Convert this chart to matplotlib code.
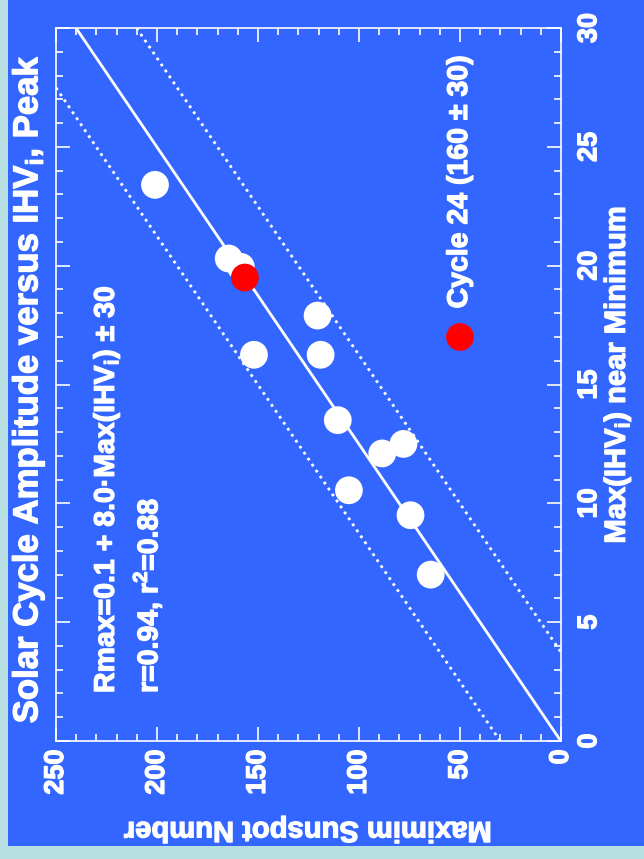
import matplotlib
matplotlib.use("Agg")
import matplotlib.pyplot as plt
import matplotlib.patheffects as pe
from matplotlib.patches import Rectangle
from matplotlib.ticker import MultipleLocator
import numpy as np

plt.rcParams['font.family'] = ['Liberation Sans', 'DejaVu Sans']
plt.rcParams['font.weight'] = 'bold'
plt.rcParams['mathtext.fontset'] = 'custom'
plt.rcParams['mathtext.rm'] = 'Liberation Sans:bold'
plt.rcParams['mathtext.it'] = 'Liberation Sans:bold'
plt.rcParams['mathtext.bf'] = 'Liberation Sans:bold'

BLUE = "#3366FF"
EDGE = "#B8E0E2"
WHITE = "#FFFFFF"
RED = "#FF0000"

# past cycles: max IHV near minimum vs. maximum sunspot number
ihv = [23.4, 20.3, 19.95, 17.9, 16.25, 16.25, 13.5, 12.1, 12.5, 10.55, 9.5, 7.0]
rmax = [201, 164.5, 158.5, 120.5, 152, 119, 110.5, 88.5, 78, 105, 74.5, 64.5]

# cycle 24
c24_ihv = [19.5]
c24_r = [156.5]

# fit Rmax = 0.1 + 8.0*IHV, +/- 30
fit_a, fit_b, fit_err = 0.1, 8.0, 30
fit_x = np.array([0, 30])

# heavier strokes to mimic the chunky slide font
thick = [pe.withStroke(linewidth=0.9, foreground=WHITE)]

fig = plt.figure(figsize=(6.44, 8.59), dpi=100)
fig.patch.set_facecolor(EDGE)
fig.patches.append(Rectangle((8 / 644, 13 / 859), 636 / 644, 846 / 859,
                             transform=fig.transFigure, facecolor=BLUE,
                             edgecolor="none", zorder=-1))

ax = fig.add_axes([56 / 644, 1 - 741 / 859, 505 / 644, 713 / 859])
ax.set_facecolor("none")
ax.set_xlim(250, 0)
ax.set_ylim(0, 30)

fit_r = fit_a + fit_b * fit_x
ax.plot(fit_r, fit_x, color=WHITE, lw=2.0, zorder=2)
ax.plot(fit_r + fit_err, fit_x, color=WHITE, lw=2.0, ls=(0, (1, 1.6)), zorder=2)
ax.plot(fit_r - fit_err, fit_x, color=WHITE, lw=2.0, ls=(0, (1, 1.6)), zorder=2)

ax.scatter(rmax, ihv, s=400, color=WHITE, edgecolors="none", zorder=3)
ax.scatter(c24_r, c24_ihv, s=400, color=RED, edgecolors="none", zorder=4)

# legend entry
ax.scatter([50], [17.0], s=400, color=RED, edgecolors="none", zorder=4, clip_on=False)
ax.text(50, 18.2, "Cycle 24 (160 \u00b1 30)", rotation=90, ha="center", va="bottom",
        color=WHITE, fontsize=20.5, fontweight="bold", path_effects=thick)

for s in ax.spines.values():
    s.set_color(WHITE)
    s.set_linewidth(1.2)

ax.xaxis.set_major_locator(MultipleLocator(50))
ax.xaxis.set_minor_locator(MultipleLocator(10))
ax.yaxis.set_major_locator(MultipleLocator(5))
ax.yaxis.set_minor_locator(MultipleLocator(1))
ax.tick_params(which="both", direction="in", top=True, bottom=True, left=True,
               right=True, labelleft=False, labelright=True, color=WHITE,
               labelcolor=WHITE, width=1.2, labelsize=19.5)
ax.tick_params(which="major", length=10)
ax.tick_params(which="minor", length=5)
ax.tick_params(axis="x", labelrotation=90, pad=6)
ax.tick_params(axis="y", labelrotation=90, pad=11)
for lbl in ax.get_yticklabels():
    lbl.set_va("center")
for lbl in ax.get_xticklabels() + ax.get_yticklabels():
    lbl.set_fontweight("bold")
    lbl.set_path_effects(thick)

fig.text(28 / 644, 1 - 389 / 859, "Solar Cycle Amplitude versus IHV$_i$, Peak",
         rotation=90, ha="center", va="center", color=WHITE, fontsize=25,
         fontweight="bold", path_effects=thick)
fig.text(107 / 644, 1 - 693 / 859, "Rmax=0.1 + 8.0\u00b7Max(IHV$_i$) \u00b1 30",
         rotation=90, ha="center", va="bottom", color=WHITE, fontsize=20.5,
         fontweight="bold", path_effects=thick)
fig.text(148 / 644, 1 - 693 / 859, "r=0.94, r$^2$=0.88",
         rotation=90, ha="center", va="bottom", color=WHITE, fontsize=20.5,
         fontweight="bold", path_effects=thick)
fig.text(617 / 644, 1 - 375 / 859, "Max(IHV$_i$) near Minimum",
         rotation=90, ha="center", va="center", color=WHITE, fontsize=21,
         fontweight="bold", path_effects=thick)
fig.text(308 / 644, 1 - 830 / 859, "Maximim Sunspot Number",
         rotation=180, ha="center", va="center", color=WHITE, fontsize=21,
         fontweight="bold", path_effects=thick)

fig.savefig("out.png", dpi=100, facecolor=EDGE)
